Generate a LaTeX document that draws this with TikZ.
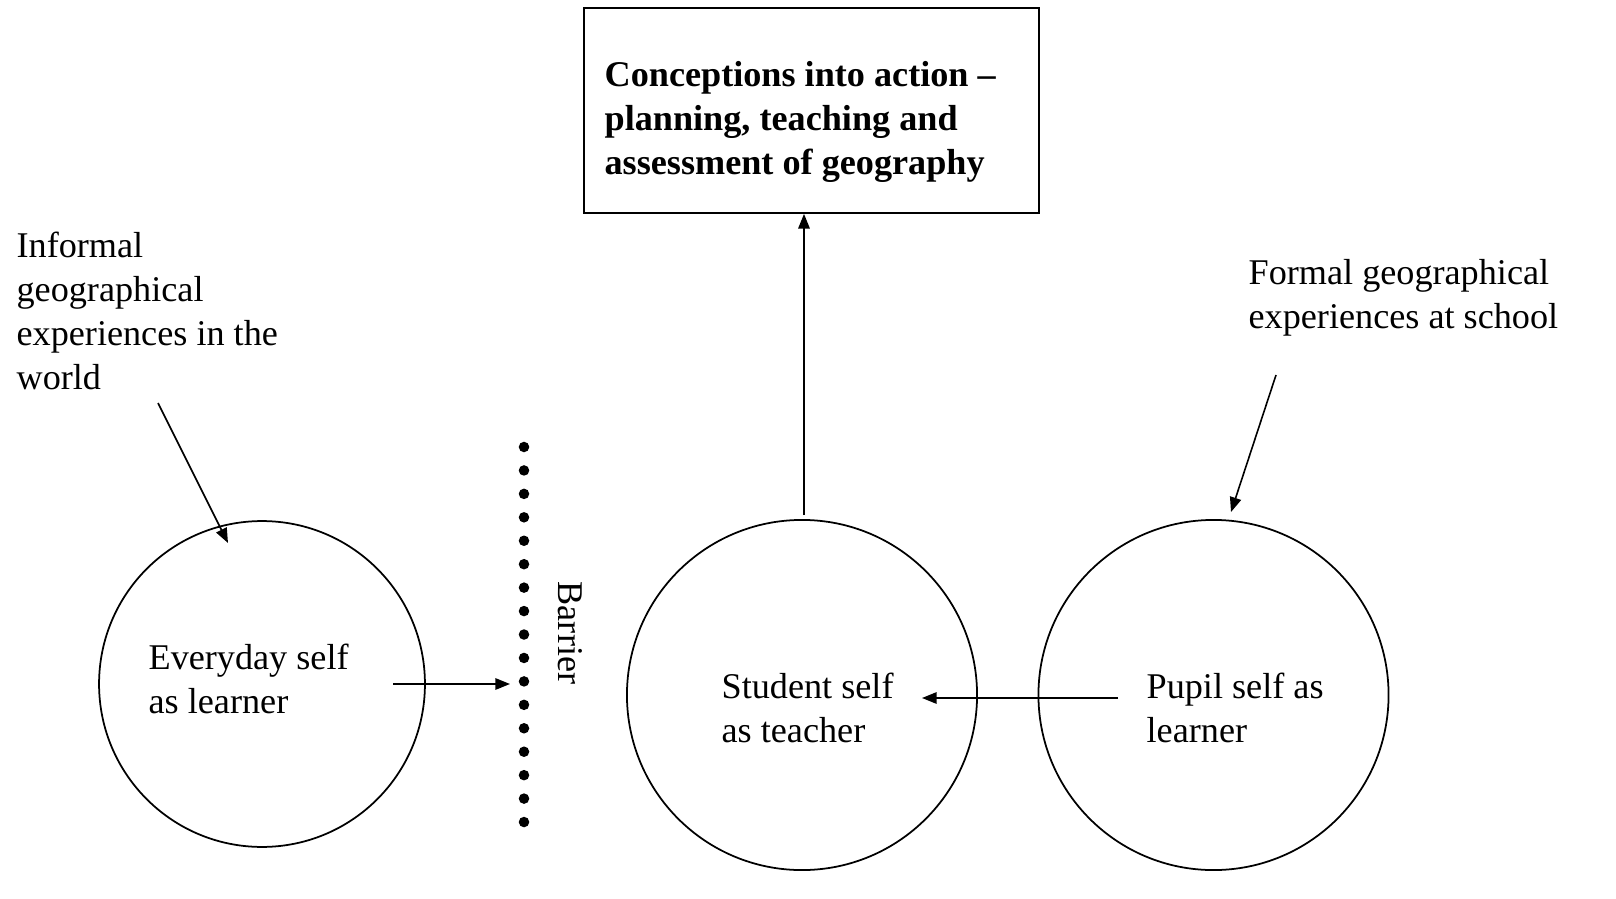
\documentclass[tikz,border=0pt]{standalone}
\usepackage{fontspec}
\setmainfont{Liberation Serif}
\usetikzlibrary{arrows.meta}
\begin{document}
\begin{tikzpicture}[x=0.3136pt,y=-0.3136pt,
  every node/.style={font=\fontsize{11.35}{13.8}\selectfont},
  lbl/.style={align=left,inner sep=0pt,anchor=west},
  ring/.style={draw,circle,line width=0.55pt,inner sep=0pt},
  conn/.style={line width=0.5pt,-{Triangle[length=4.6pt,width=3.6pt]}},
  dot/.style={fill,circle,inner sep=0pt,minimum size=3.3pt}]
\useasboundingbox (0,0) rectangle (1616,899);
% top box
\node[draw,line width=0.55pt,minimum width=142.7pt,minimum height=64.3pt,inner sep=0pt] (box) at (811.5,110.5) {};
\node[lbl,font=\fontsize{11.35}{13.8}\selectfont\bfseries] (boxtext) at (604,122) {Conceptions into action --\\planning, teaching and\\assessment of geography};
% circles
\node[ring,minimum size=102.2pt] (everyday) at (262,684) {};
\node[ring,minimum size=109.8pt] (student) at (802,695) {};
\node[ring,minimum size=109.8pt] (pupil) at (1213.5,695) {};
\node[lbl] (everydaytext) at (148,679) {Everyday self\\as learner};
\node[lbl] (studenttext) at (721,708) {Student self\\as teacher};
\node[lbl] (pupiltext) at (1146,708) {Pupil self as\\learner};
% outer labels
\node[lbl] (informal) at (16,311) {Informal\\geographical\\experiences in the\\world};
\node[lbl] (formal) at (1248,298) {Formal geographical\\experiences at school};
\node[rotate=-90,inner sep=0pt] (barrier) at (570,633) {Barrier};
% barrier dots
\foreach \i in {0,...,16} {
  \node[dot] (d\i) at (524,{447+\i*23.44}) {};
}
% connector ends
\coordinate (s1) at (804,515);
\coordinate (s2) at (393,684);
\coordinate (e2) at (510,684);
\coordinate (s3) at (1118,698);
\coordinate (e3) at (922,698);
\coordinate (s4) at (158,403);
\coordinate (e4) at (228,543);
\coordinate (s5) at (1276,375);
\coordinate (e5) at (1231,512);
\draw[conn] (s1) -- (box.south -| s1);
\draw[conn] (s2) -- (e2);
\draw[conn] (s3) -- (e3);
\draw[conn] (s4) -- (e4);
\draw[conn] (s5) -- (e5);
\end{tikzpicture}
\end{document}
